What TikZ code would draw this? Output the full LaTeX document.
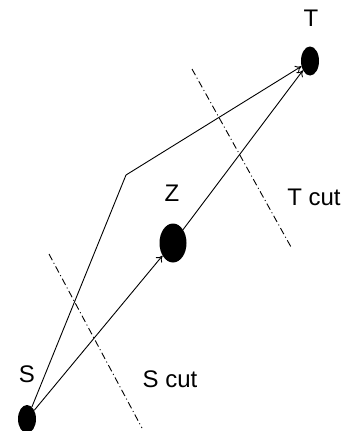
\documentclass[tikz,border=0pt]{standalone}
\usepackage{fontspec}
\setmainfont{Liberation Sans}
\usetikzlibrary{shapes.geometric,arrows.meta}
\begin{document}
\begin{tikzpicture}[x=1pt,y=-1pt,
  vertex/.style={ellipse,fill=black,draw=none,inner sep=0pt},
  lbl/.style={font=\fontsize{24}{28}\selectfont,inner sep=0pt},
  edge/.style={line width=0.9pt},
  arr/.style={edge,-{To[length=6pt,width=8pt]}},
  cutline/.style={line width=0.9pt,dash pattern=on 7pt off 3pt on 1pt off 3pt}]
\useasboundingbox (0,0) rectangle (343,431);
\node[vertex,minimum width=18pt,minimum height=28pt] (S) at (27,419) {};
\node[vertex,minimum width=27pt,minimum height=39pt] (Z) at (173,243) {};
\node[vertex,minimum width=18pt,minimum height=29pt] (T) at (310,61) {};
\coordinate (B) at (126,175);
\node[lbl] (Sl) at (27,374) {S};
\node[lbl] (Zl) at (172,193) {Z};
\node[lbl] (Tl) at (311,18) {T};
\node[lbl] (Sc) at (170,379) {S cut};
\node[lbl] (Tc) at (314,197) {T cut};
\draw[edge] (S) -- (B);
\draw[arr] (B) -- (T);
\draw[arr] (S) -- (Z);
\draw[arr] (Z) -- (T);
\coordinate (sc1) at (49,254);
\coordinate (sc2) at (142,428);
\coordinate (tc1) at (192,69);
\coordinate (tc2) at (291,247);
\draw[cutline] (sc1) -- (sc2);
\draw[cutline] (tc1) -- (tc2);
\end{tikzpicture}
\end{document}
